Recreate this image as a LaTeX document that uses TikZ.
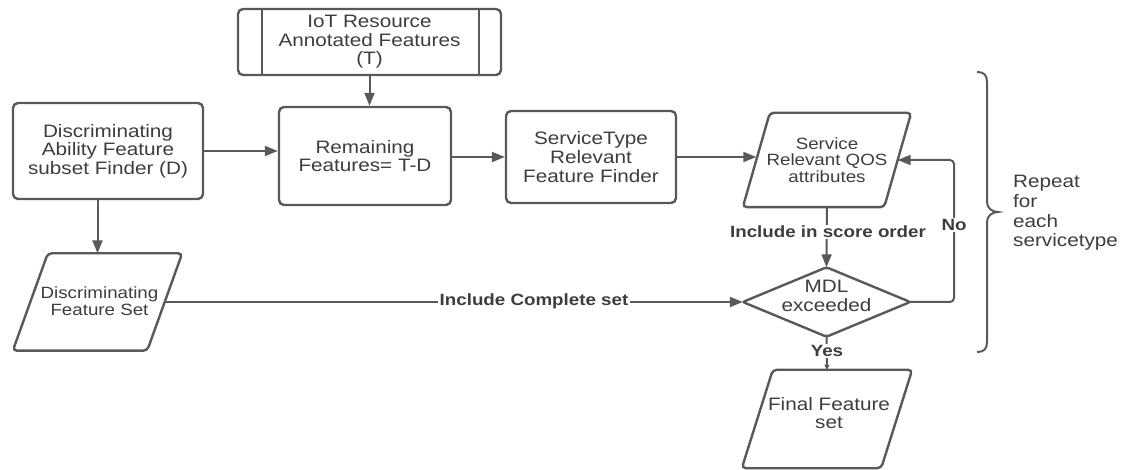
\documentclass[tikz,border=0pt]{standalone}
\usepackage{fontspec}
\setmainfont{Liberation Sans}[FakeStretch=1.15]
\usetikzlibrary{arrows.meta,calc}
\definecolor{edge}{HTML}{595959}
\definecolor{ink}{HTML}{3D3D3D}
\newcommand\txtbox{\fontsize{18}{18.6}\selectfont}
\newcommand\txtsmall{\fontsize{16.3}{16.7}\selectfont}
\newcommand\txtlbl{\fontsize{16.3}{17}\selectfont\bfseries}
% parallelogram around a (text-only) node: #1 node name, #2 half of the slant
\newcommand\slantbox[2]{%
  \draw[outline,rounded corners=4pt]
    ([xshift=-#2]#1.south west) -- ([xshift=#2]#1.north west) --
    ([xshift=#2]#1.north east) -- ([xshift=-#2]#1.south east) -- cycle;}

\begin{document}
\begin{tikzpicture}[x=1pt,y=-1pt,
  outline/.style={draw=edge, line width=2.4pt, rounded corners=5pt},
  procbox/.style={outline, text=ink, align=center, inner sep=0pt, font=\txtbox},
  shapetext/.style={text=ink, align=center, inner sep=0pt},
  flow/.style={draw=edge, line width=2pt, -{Triangle[length=13pt,width=10pt]}},
  plain/.style={draw=edge, line width=2pt},
  lbl/.style={fill=white, text=ink, font=\txtlbl, inner sep=1.5pt},
]
\useasboundingbox (0,0) rectangle (1128,470);

% process boxes
\node[procbox, minimum width=263pt, minimum height=66pt] (iot) at (369.5,42)
  {IoT Resource\\Annotated Features\\(T)};
\draw[draw=edge, line width=2.4pt] ([xshift=25pt]iot.north west) -- ([xshift=25pt]iot.south west);
\draw[draw=edge, line width=2.4pt] ([xshift=-23pt]iot.north east) -- ([xshift=-23pt]iot.south east);

\node[procbox, minimum width=190pt, minimum height=96pt] (disc) at (108,151)
  {Discriminating\\Ability Feature\\subset Finder (D)};
\node[procbox, minimum width=172pt, minimum height=98pt] (rem) at (365,156)
  {Remaining\\Features= T-D};
\node[procbox, minimum width=170pt, minimum height=92pt] (st) at (591,157)
  {ServiceType\\Relevant\\Feature Finder};

% data (parallelogram) shapes
\node[shapetext, font=\txtsmall, minimum width=141pt, minimum height=94pt] (qos) at (827,160)
  {Service\\Relevant QOS\\attributes};
\slantbox{qos}{13.5pt}
\node[shapetext, minimum width=134pt, minimum height=97pt] (dfs) at (97.5,302) {};
\slantbox{dfs}{17.5pt}
\node[shapetext, font=\txtsmall] (dfstext) at (99.5,301) {Discriminating\\Feature Set};
\node[shapetext, minimum width=139pt, minimum height=98pt] (final) at (827,419) {};
\slantbox{final}{15.5pt}
\node[shapetext, font=\txtbox] (finaltext) at (829,413) {Final Feature\\set};

% decision
\node[shapetext, minimum width=167pt, minimum height=69pt] (mdl) at (826.5,302) {};
\draw[outline, rounded corners=2pt] (mdl.west) -- (mdl.north) -- (mdl.east) -- (mdl.south) -- cycle;
\node[shapetext, font=\txtbox] (mdltext) at (826.5,296) {MDL\\exceeded};

% connectors
\draw[flow] (iot.south) -- (iot.south |- rem.north);
\draw[flow] (disc.east) -- (disc.east -| rem.west);
\draw[flow] (st.west -| rem.east) -- (st.west);
\draw[flow] (st.east) -- (st.east -| qos.west);
\draw[flow] (dfs.north |- disc.south) -- (dfs.north);
\draw[flow] (qos.south) -- (mdl.north);
\node[lbl] (lscore) at (828,232) {Include in score order};
\draw[flow] (dfs.east) -- (mdl.west);
\node[lbl] (lcomplete) at (534,301) {Include Complete set};
\coordinate (loopx) at (954,0);
\draw[flow, rounded corners=4pt] (mdl.east) -- (mdl.east -| loopx) -- (qos.east -| loopx) -- (qos.east);
\node[lbl] (lno) at (954,225) {No};
\draw[plain, -{Triangle[length=5pt,width=5pt]}] (mdl.south) -- (final.north);
\node[lbl] (lyes) at (827,351) {Yes};

% loop brace and note
\draw[plain] (977,72) .. controls (984,72) and (987,75) .. (987,82) -- (987,202)
  .. controls (987,208) and (992,212) .. (998,212)
  .. controls (992,212) and (987,216) .. (987,222) -- (987,342)
  .. controls (987,349) and (984,352) .. (977,352);
\node[shapetext, align=left, anchor=west, font=\fontsize{18}{19.7}\selectfont] (rep) at (1013,213)
  {Repeat\\for\\each\\servicetype};
\end{tikzpicture}
\end{document}
